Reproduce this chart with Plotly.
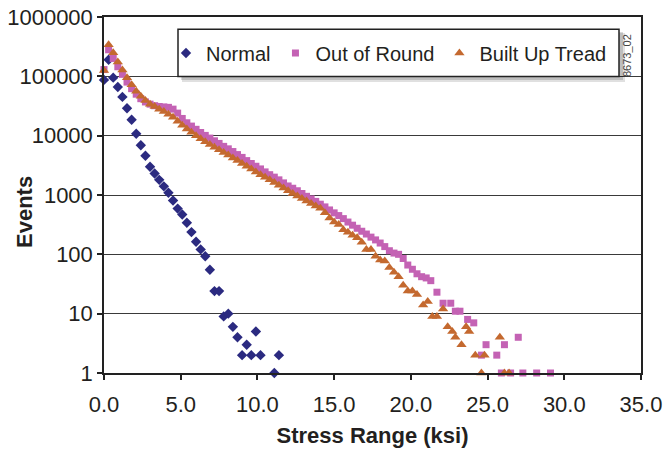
import plotly.graph_objects as go

# ---------------- data ----------------
normal_x = [0.0, 0.3, 0.6, 0.9, 1.2, 1.5, 1.8, 2.1, 2.4, 2.7, 3.0, 3.3, 3.6, 3.9, 4.2, 4.5,
            4.8, 5.1, 5.4, 5.7, 6.0, 6.3, 6.6, 6.9, 7.2, 7.5, 7.8, 8.1, 8.4, 8.7, 9.0, 9.3,
            9.6, 9.9, 10.2, 11.1, 11.4]
normal_y = [87000, 190000, 95000, 66000, 45000, 29000, 18500, 10800, 6900, 4600, 3000, 2300,
            1800, 1400, 1090, 810, 590, 470, 340, 237, 163, 121, 93, 55, 24, 24, 9, 10, 6, 4,
            2, 3, 2, 5, 2, 1, 2]

oor_x = [0.0, 0.3, 0.6, 0.9, 1.2, 1.5, 1.8, 2.1, 2.4, 2.7, 3.0, 3.3, 3.6, 3.9, 4.2, 4.5, 4.8,
         5.1, 5.4, 5.7, 6.0, 6.3, 6.6, 6.9, 7.2, 7.5, 7.8, 8.1, 8.4, 8.7, 9.0, 9.3, 9.6, 9.9,
         10.2, 10.5, 10.8, 11.1, 11.4, 11.7, 12.0, 12.3, 12.6, 12.9, 13.2, 13.5, 13.8, 14.1,
         14.4, 14.7, 15.0, 15.3, 15.6, 15.9, 16.2, 16.5, 16.8, 17.1, 17.4, 17.7, 18.0, 18.3,
         18.6, 18.9, 19.2, 19.5, 19.8, 20.1, 20.4, 20.7, 21.0, 21.3, 21.7, 22.1, 22.6, 22.9,
         23.2, 23.7, 24.1, 24.6, 24.9, 25.6, 25.9, 26.1, 26.5, 27.0, 27.3, 28.2, 29.1]
oor_y = [130000, 280000, 200000, 145000, 108000, 80000, 62000, 50000, 42000, 37000, 34000,
         32000, 31000, 30500, 30000, 28000, 24000, 19500, 16500, 14500, 12800, 11300, 10100,
         9100, 8200, 7400, 6600, 6000, 5400, 4800, 4300, 3800, 3400, 3050, 2750, 2450, 2200,
         2000, 1800, 1600, 1420, 1300, 1180, 1060, 950, 860, 780, 700, 630, 560, 500, 450,
         400, 350, 310, 275, 245, 220, 195, 175, 155, 135, 115, 105, 100, 85, 66, 56, 47, 42,
         40, 36, 23, 15, 15, 11, 11, 8, 7, 2, 3, 2, 1, 3, 1, 4, 1, 1, 1]

but_x = [0.0, 0.3, 0.6, 0.9, 1.2, 1.5, 1.8, 2.1, 2.4, 2.7, 3.0, 3.3, 3.6, 3.9, 4.2, 4.5, 4.8,
         5.1, 5.4, 5.7, 6.0, 6.3, 6.6, 6.9, 7.2, 7.5, 7.8, 8.1, 8.4, 8.7, 9.0, 9.3, 9.6, 9.9,
         10.2, 10.5, 10.8, 11.1, 11.4, 11.7, 12.0, 12.3, 12.6, 12.9, 13.2, 13.5, 13.8, 14.1,
         14.4, 14.7, 15.0, 15.3, 15.6, 15.9, 16.2, 16.5, 16.8, 17.1, 17.4, 17.7, 18.0, 18.3,
         18.6, 18.9, 19.2, 19.5, 19.8, 20.1, 20.4, 20.8, 21.1, 21.4, 21.7, 22.1, 22.4, 22.7,
         22.9, 23.3, 23.6, 23.8, 24.2, 24.6, 24.8, 25.8, 26.1, 26.4]
but_y = [125000, 340000, 250000, 175000, 128000, 95000, 72000, 56000, 46000, 39000, 34000,
         31000, 28000, 25500, 23000, 20500, 17500, 15000, 13000, 11400, 10000, 8900, 7900,
         7100, 6400, 5800, 5200, 4700, 4200, 3800, 3400, 3050, 2750, 2450, 2200, 2000, 1800,
         1620, 1460, 1310, 1180, 1060, 960, 870, 790, 720, 650, 600, 500, 410, 350, 318, 260,
         235, 210, 190, 160, 121, 121, 93, 80, 77, 60, 50, 42, 30, 24, 24, 21, 14, 16, 9, 9,
         12, 6, 5, 4, 3, 6, 5, 2, 1, 2, 4, 1, 1]

series_names = ["Normal", "Out of Round", "Built Up Tread"]
y_tick_vals = [1, 10, 100, 1000, 10000, 100000, 1000000]
y_tick_text = ["1", "10", "100", "1000", "10000", "100000", "1000000"]
x_tick_vals = [0, 5, 10, 15, 20, 25, 30, 35]
x_title = "Stress Range (ksi)"
y_title = "Events"
stamp = "8673_02"

# ---------------- geometry (pixels) ----------------
OFF = 0                      # body margin removed by post_script
W, H = 668, 452
L, R, T, B = 104, 27, 17, 79
PW, PH = W - L - R, H - T - B


def px(xp):                  # page pixel x -> paper fraction
    return (xp - OFF - L) / PW


def py(yp):                  # page pixel y -> paper fraction
    return (OFF + H - B - yp) / PH


FONT = "Liberation Sans, Arial, Helvetica, sans-serif"
TXT = "#231f20"

fig = go.Figure()
fig.add_trace(go.Scatter(x=normal_x, y=normal_y, mode="markers", name=series_names[0],
                         cliponaxis=False,
                         marker=dict(symbol="diamond", size=8, color="#2b2a80")))
fig.add_trace(go.Scatter(x=oor_x, y=oor_y, mode="markers", name=series_names[1],
                         cliponaxis=False,
                         marker=dict(symbol="square", size=7, color="#c462b4")))
fig.add_trace(go.Scatter(x=but_x, y=but_y, mode="markers", name=series_names[2],
                         cliponaxis=False,
                         marker=dict(symbol="triangle-up", size=9, color="#c4692f")))

# legend box with shadow
shapes = [
    dict(type="rect", xref="paper", yref="paper", layer="above",
         x0=px(182), x1=px(625), y0=py(82), y1=py(33),
         fillcolor="rgba(0,0,0,0.12)", line=dict(width=0)),
    dict(type="rect", xref="paper", yref="paper", layer="above",
         x0=px(181), x1=px(623), y0=py(80), y1=py(32),
         fillcolor="rgba(0,0,0,0.15)", line=dict(width=0)),
    dict(type="rect", xref="paper", yref="paper", layer="above",
         x0=px(178), x1=px(619), y0=py(76.5), y1=py(29.3),
         fillcolor="white", line=dict(color="#222", width=1.5)),
]

fig.update_layout(
    width=W, height=H,
    margin=dict(l=L, r=R, t=T, b=B, autoexpand=False),
    paper_bgcolor="white", plot_bgcolor="white",
    font=dict(family=FONT, color=TXT, size=22),
    showlegend=True,
    legend=dict(orientation="h", x=px(166), xanchor="left", y=py(53), yanchor="middle",
                bgcolor="rgba(0,0,0,0)", borderwidth=0,
                font=dict(family=FONT, size=20, color=TXT)),
    shapes=shapes,
    annotations=[
        dict(text="<b>" + y_title + "</b>", xref="paper", yref="paper",
             x=px(25), y=py(212), xanchor="center", yanchor="middle",
             textangle=-90, showarrow=False,
             font=dict(family=FONT, size=22, color=TXT)),
        dict(text=stamp, xref="paper", yref="paper", x=px(627), y=py(56),
             xanchor="center", yanchor="middle",
             textangle=-90, showarrow=False,
             font=dict(family=FONT, size=11, color="#444")),
    ],
)

fig.update_xaxes(
    range=[0, 35], tickvals=x_tick_vals, tickformat=".1f",
    showgrid=False, zeroline=False,
    showline=True, linecolor="#222", linewidth=1.5, mirror=True,
    ticks="outside", ticklen=5, tickwidth=1.5, tickcolor="#222",
    ticklabelstandoff=6, ticklabeloverflow="allow",
    tickfont=dict(family=FONT, size=22, color=TXT),
    title=dict(text="<b>" + x_title + "</b>", standoff=11,
               font=dict(family=FONT, size=22, color=TXT)),
)
fig.update_yaxes(
    type="log", range=[0, 6], tickvals=y_tick_vals, ticktext=y_tick_text,
    showgrid=True, gridcolor="#3a3a3a", gridwidth=1.3, zeroline=False,
    showline=True, linecolor="#222", linewidth=1.5, mirror=True,
    ticks="outside", ticklen=5, tickwidth=1.5, tickcolor="#222",
    ticklabeloverflow="allow",
    tickfont=dict(family=FONT, size=22, color=TXT),
)

fig.write_html(
    "out.html",
    config={"displayModeBar": False},
    post_script="document.body.style.margin='0';document.body.style.overflow='hidden';",
)
